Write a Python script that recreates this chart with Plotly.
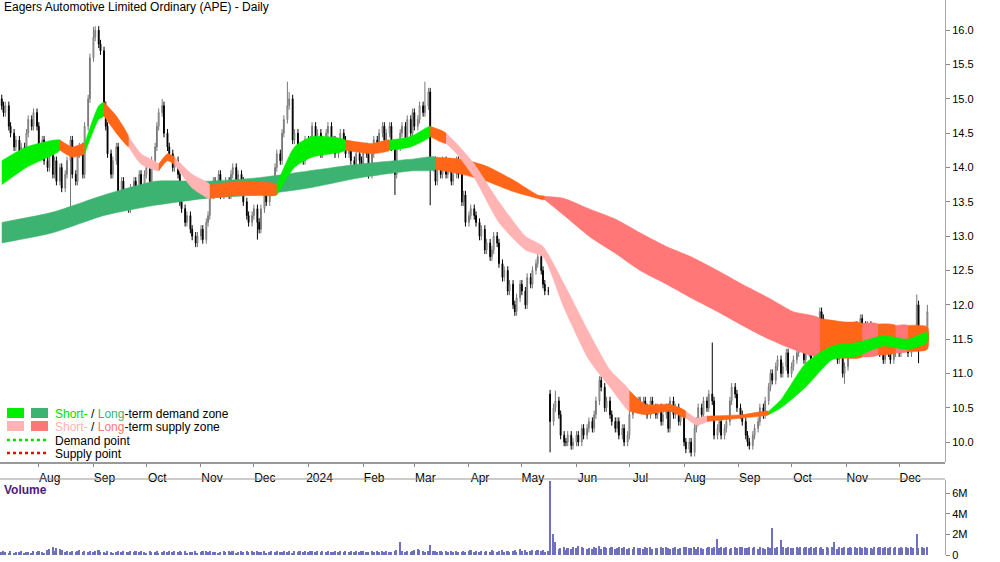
import numpy as np, pandas as pd
import plotly.graph_objects as go

closes = [
14.9,14.8,14.9,14.6,14.5,14.3,14.4,14.1,14.3,14.2,
14.5,14.7,14.6,14.8,14.6,14.3,14.4,14.1,14.0,14.2,
13.9,14.1,13.8,14.0,13.7,13.9,14.1,14.4,13.9,13.8,
14.2,14.3,13.9,14.6,15.0,15.6,15.9,16.0,15.8,15.7,
14.9,14.6,14.2,13.9,14.1,14.3,13.6,13.8,13.5,13.6,
13.4,13.7,13.8,13.6,13.9,13.7,13.9,14.0,13.8,14.1,
14.3,14.6,14.8,14.9,14.5,14.3,14.2,14.0,14.1,13.9,
13.5,13.4,13.2,13.3,13.1,13.0,12.9,13.0,13.1,12.95,
13.2,13.3,13.6,13.8,13.7,13.9,13.6,13.7,13.8,13.6,
13.9,14.0,13.7,13.9,13.8,13.5,13.3,13.2,13.3,13.4,
13.2,13.1,13.4,13.6,13.5,13.7,13.8,14.0,14.2,14.1,
14.5,14.7,14.9,15.0,14.4,14.5,14.2,14.3,14.1,14.4,
14.2,14.4,14.6,14.3,14.5,14.2,14.4,14.5,14.6,14.3,
14.4,14.2,14.3,14.5,14.4,14.2,14.3,14.1,14.0,14.2,
14.1,14.0,14.3,14.2,13.9,14.2,14.4,14.3,14.5,14.6,
14.4,14.5,14.6,14.3,13.9,14.3,14.5,14.6,14.4,14.7,
14.5,14.8,14.6,14.7,14.9,14.8,14.9,15.1,14.0,14.1,
13.8,14.0,13.9,14.1,13.9,14.0,13.8,13.9,14.1,13.9,
13.5,13.6,13.2,13.3,13.4,13.3,13.2,13.0,13.1,12.8,
12.9,12.7,12.8,13.0,12.9,12.6,12.4,12.5,12.2,12.3,
12.0,11.9,12.1,12.3,12.2,12.0,12.4,12.3,12.5,12.6,
12.7,12.5,12.3,12.2,12.2,10.3,10.5,10.6,10.4,
10.1,10.0,10.0,10.1,9.95,10.0,10.1,10.0,10.2,10.1,
10.2,10.3,10.2,10.4,10.6,10.9,10.8,10.5,10.6,10.4,
10.3,10.2,10.3,10.1,10.2,10.0,10.1,10.4,10.6,10.5,
10.6,10.5,10.6,10.5,10.4,10.6,10.5,10.4,10.5,10.3,
10.4,10.5,10.2,10.6,10.4,10.5,10.3,10.4,10.0,9.9,
10.0,9.85,10.2,10.3,10.5,10.4,10.6,10.5,10.7,10.6,
10.1,10.2,10.3,10.1,10.2,10.3,10.6,10.8,10.7,10.5,
10.4,10.3,10.1,10.0,9.95,10.1,10.2,10.3,10.5,10.4,
10.6,10.8,11.0,10.9,11.1,11.2,11.0,11.1,11.3,11.0,
11.1,11.2,11.3,11.5,11.4,11.2,11.3,11.5,11.0,11.4,
11.7,11.9,11.8,11.6,11.5,11.7,11.4,11.3,11.2,11.4,
11.0,11.1,11.3,11.4,11.5,11.7,11.6,11.8,11.7,11.6,
11.7,11.5,11.6,11.4,11.5,11.3,11.2,11.4,11.3,11.2,
11.3,11.4,11.3,11.5,11.4,11.5,11.3,11.4,11.5,12.0,11.5,11.6,11.5,11.9]
n = len(closes)
first_open = 15.0
gap_open = {215: 10.7}
extra_high = {36: 16.05, 37: 16.05, 63: 15.0, 112: 15.25, 113: 15.1, 166: 15.25, 217: 10.75, 235: 10.95, 278: 11.45, 320: 11.95, 358: 12.15, 362: 12.0}
extra_low = {27: 13.3, 46: 13.45, 76: 12.85, 100: 12.95, 154: 13.6, 168: 13.45, 215: 9.85, 271: 9.8, 293: 9.9, 330: 10.85, 359: 11.15}

vol_digits = ("3432423342" "3324343256" "8476534343" "4534343453" "3243234343"
              "3434343243" "3423434343" "4342334234" "4343323434" "3423434343"
              "4334234343" "3434243434" "3443434343" "3434343434" "3443343434"
              "3433453434" "3456543434" "4343434343" "3434534343" "4354345343"
              "4536453454" "54534c7867" "8576879876" "7687968778" "6787867687"
              "7687867787" "8767867887" "7868767878" "6787867878" "8778786876"
              "8787878787" "7878787878" "7868787687" "8787878787" "7687878787"
              "8787878787" "8787878787")
vol_spikes = {156: 1.3, 168: 1.0, 215: 7.2, 216: 2.0, 217: 1.3, 280: 1.6, 302: 2.6, 305: 1.5, 326: 1.3, 358: 2.0}

short_days = [0,10,23,28,33,38,40,45,50,55,62,65,68,75,82,95,108,115,122,135,145,152,160,168,174,178,185,195,205,212,220,230,238,246,252,262,268,272,276,290,300,305,315,325,335,345,355,362]
short_lo = [13.75,14.0,14.25,14.15,14.2,14.7,14.75,14.5,14.3,14.05,13.95,14.1,14.05,13.7,13.55,13.6,13.6,14.0,14.15,14.25,14.2,14.25,14.3,14.45,14.35,14.2,13.85,13.2,12.8,12.7,11.95,11.2,10.8,10.45,10.4,10.45,10.35,10.25,10.3,10.35,10.4,10.5,10.8,11.2,11.25,11.4,11.35,11.45]
short_hi = [14.1,14.3,14.4,14.3,14.35,14.9,14.95,14.75,14.45,14.2,14.05,14.2,14.15,13.9,13.75,13.8,13.75,14.3,14.45,14.4,14.35,14.4,14.45,14.6,14.5,14.35,14.05,13.5,13.0,12.85,12.3,11.6,11.05,10.75,10.55,10.55,10.45,10.35,10.38,10.4,10.45,10.62,11.15,11.4,11.45,11.55,11.5,11.6]
short_col = "GGOOGGOOPPOOPPOOGGGOOGGOPPPPPPPPPOOOPPOOGGGGGGG"

long_days = [0,20,40,60,80,100,120,140,160,170,180,190,200,210,213,220,230,240,250,260,270,280,290,300,310,320,330,337,343,350,355,362]
long_lo = [12.9,13.05,13.3,13.45,13.55,13.6,13.7,13.85,13.95,13.97,13.9,13.8,13.65,13.55,13.53,13.3,13.0,12.75,12.5,12.3,12.1,11.9,11.7,11.5,11.35,11.25,11.22,11.24,11.27,11.3,11.32,11.35]
long_hi = [13.2,13.35,13.6,13.8,13.8,13.85,13.95,14.05,14.12,14.15,14.12,14.02,13.82,13.6,13.58,13.55,13.4,13.25,13.05,12.85,12.7,12.5,12.3,12.1,11.9,11.8,11.75,11.73,11.72,11.7,11.7,11.68]
long_col = "GGGGGGGGG" + "OOOOO" + "RRRRRRRRRRR" + "OOROR" + "O"

month_ticks = ["2023-08-01","2023-09-01","2023-10-01","2023-11-01","2023-12-01","2024-01-01","2024-02-01","2024-03-01","2024-04-01","2024-05-01","2024-06-01","2024-07-01","2024-08-01","2024-09-01","2024-10-01","2024-11-01","2024-12-01"]
month_text = ["Aug","Sep","Oct","Nov","Dec","2024","Feb","Mar","Apr","May","Jun","Jul","Aug","Sep","Oct","Nov","Dec"]

# ---------- build ----------
dates = pd.date_range("2023-07-11", "2024-12-17", periods=n).normalize()
c = np.array(closes)
o = np.r_[first_open, c[:-1]]
for k, v in gap_open.items():
    o[k] = v
h = np.maximum(o, c) + 0.06
l = np.minimum(o, c) - 0.06
for k, v in extra_high.items():
    h[k] = max(h[k], v)
for k, v in extra_low.items():
    l[k] = min(l[k], v)
vol = np.array([int(ch, 16) / 10 for ch in vol_digits[:n]])
for k, v in vol_spikes.items():
    vol[k] = v
vol = vol * 1e6

fig = go.Figure()
SC = {"G": "#00ee00", "O": "#ff6618", "P": "#ffb3b3"}
LC = {"G": "#3cb371", "O": "#ff6618", "R": "#ff7777"}

def bands(days, lo, hi, cols, cmap):
    m = min(len(cols), len(days) - 1)
    i = 0
    while i < m:
        j = i
        while j + 1 < m and cols[j + 1] == cols[i]:
            j += 1
        idx = list(range(i, j + 2))
        xs = [dates[min(days[k], n - 1)] for k in idx]
        xx = xs + xs[::-1]
        yy = [hi[k] for k in idx] + [lo[k] for k in idx][::-1]
        fig.add_trace(go.Scatter(x=xx, y=yy, fill="toself", fillcolor=cmap[cols[i]],
                                 line=dict(width=0.5, color=cmap[cols[i]], shape="spline", smoothing=0.6),
                                 mode="lines", hoverinfo="skip", showlegend=False, yaxis="y"))
        i = j + 1

bands(long_days, long_lo, long_hi, long_col, LC)
bands(short_days, short_lo, short_hi, short_col, SC)

fig.add_trace(go.Candlestick(x=dates, open=o, high=h, low=l, close=c,
    increasing=dict(fillcolor="white", line=dict(color="#777777", width=1)),
    decreasing=dict(fillcolor="black", line=dict(color="black", width=1)),
    whiskerwidth=0, showlegend=False, yaxis="y"))

fig.add_trace(go.Bar(x=dates, y=vol, marker=dict(color="#7070c0", line=dict(width=0)),
                     width=86400000 * 0.9, showlegend=False, yaxis="y2", xaxis="x2"))

H = 562
xr = ["2023-07-10", "2024-12-27"]
fig.update_layout(
    width=1000, height=H, margin=dict(l=0, r=55, t=0, b=0, autoexpand=False),
    paper_bgcolor="white", plot_bgcolor="white",
    font=dict(family="Liberation Sans, Arial", size=12, color="black"),
    xaxis=dict(range=xr, domain=[0, 1], anchor="y", rangeslider=dict(visible=False),
               tickvals=month_ticks, ticktext=month_text, ticks="outside", ticklen=4,
               tickcolor="#888", showgrid=False, ticklabelstandoff=1, ticklabelshift=11,
               tickfont=dict(size=12)),
    xaxis2=dict(range=xr, domain=[0, 1], anchor="y2", showticklabels=False, showgrid=False),
    yaxis=dict(domain=[1 - 462 / H, 1], range=[9.71, 16.44], side="right", dtick=0.5,
               tickformat=".1f", showgrid=False, ticks="outside", ticklen=4, tickcolor="#888",
               showline=True, linecolor="#aaa", tickfont=dict(size=11)),
    yaxis2=dict(domain=[1 - 555 / H, 1 - 480 / H], range=[0, 7.3e6], side="right",
                tickvals=[0, 2e6, 4e6, 6e6], ticktext=["0", "2M", "4M", "6M"],
                ticklabeloverflow="allow",
                showgrid=False, ticks="outside", ticklen=4, tickcolor="#888",
                showline=True, linecolor="#aaa", tickfont=dict(size=11)),
    bargap=0,
)

def px(xp, yp):
    return xp / 945, 1 - yp / H
shapes = [
    dict(type="line", xref="paper", yref="paper", x0=0, x1=1, y0=px(0, 463)[1], y1=px(0, 463)[1], line=dict(color="#999", width=2)),
    dict(type="line", xref="paper", yref="paper", x0=0, x1=1, y0=px(0, 479)[1], y1=px(0, 479)[1], line=dict(color="#999", width=1)),
]
for (x0, y0, col) in [(7, 408, "#00ee00"), (31, 408, "#3cb371"), (7, 421, "#ffb3b3"), (31, 421, "#ff7777")]:
    a, b = px(x0, y0); cc, d = px(x0 + 17, y0 + 10)
    shapes.append(dict(type="rect", xref="paper", yref="paper", x0=a, x1=cc, y0=d, y1=b, fillcolor=col, line=dict(width=0)))
for (yy, col) in [(440, "#00dd00"), (453, "#ff0000")]:
    a, b = px(7, yy); cc, _ = px(46, yy)
    shapes.append(dict(type="line", xref="paper", yref="paper", x0=a, x1=cc, y0=b, y1=b, line=dict(color=col, width=2.5, dash="dot")))
fig.update_layout(shapes=shapes)

def ann(xp, yp, text, **kw):
    a, b = px(xp, yp)
    fig.add_annotation(xref="paper", yref="paper", x=a, y=b, text=text, showarrow=False,
                       xanchor="left", yanchor="middle", **kw)
ann(53, 414, "<span style='color:#00dd00'>Short-</span> / <span style='color:#3cb371'>Long</span>-term demand zone")
ann(53, 427, "<span style='color:#ffb3b3'>Short-</span> / <span style='color:#ff7777'>Long</span>-term supply zone")
ann(53, 441, "Demand point")
ann(53, 454, "Supply point")
ann(2, 7, "Eagers Automotive Limited Ordinary (APE) - Daily")
ann(2, 490, "<b>Volume</b>", font=dict(color="#4b1a80", size=12))

fig.write_html("out.html", config={"displayModeBar": False},
               post_script="document.body.style.margin='0';document.body.style.overflow='hidden';")
